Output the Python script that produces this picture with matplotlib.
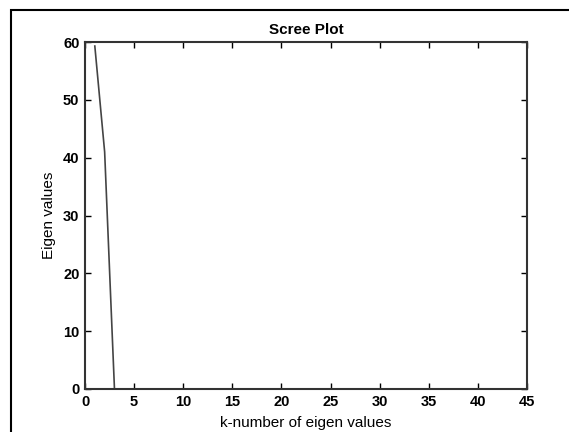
import numpy as np
import matplotlib.pyplot as plt
from matplotlib.patches import Rectangle

# eigen values for k = 1..45
k = np.arange(1, 46)
eigen_values = [59.3, 41.0] + [0.0] * 43

plt.rcParams['font.family'] = ['Liberation Sans', 'DejaVu Sans']

fig = plt.figure(figsize=(5.69, 4.32), dpi=100)
ax = fig.add_axes([85 / 569, 1 - 389 / 432, 442 / 569, 347 / 432])

ax.plot(k, eigen_values, color='#444444', linewidth=1.2)

ax.set_xlim(0, 45)
ax.set_ylim(0, 60)
ax.set_xticks(np.arange(0, 46, 5))
ax.set_yticks(np.arange(0, 61, 10))
ax.tick_params(direction='in', top=True, right=True, length=4, width=1,
               labelsize=10.5, pad=4)
for lab in ax.get_xticklabels() + ax.get_yticklabels():
    lab.set_fontweight('bold')
for s in ax.spines.values():
    s.set_linewidth(1.5)
    s.set_color('#333333')

ax.set_title("Scree Plot", fontsize=11, fontweight='bold', pad=6)
ax.set_xlabel("k-number of eigen values", fontsize=11, labelpad=5)
ax.set_ylabel("Eigen values", fontsize=11, labelpad=5)

# outer frame of the picture
fig.patches.append(Rectangle((11 / 569, -0.1), 1.2, 1.1 - 10 / 432,
                             transform=fig.transFigure, fill=False,
                             edgecolor='black', linewidth=1.5))

fig.savefig("out.png", dpi=100)
